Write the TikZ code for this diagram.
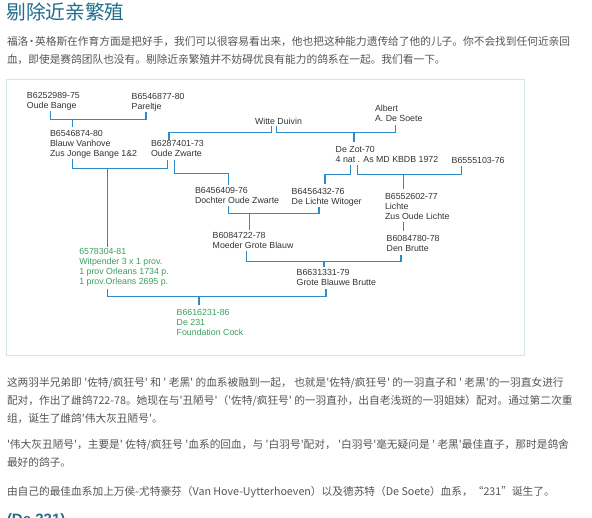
\documentclass[tikz,border=0pt]{standalone}
\usepackage{fontspec}
\newfontfamily\cjkfont{Noto Sans CJK SC}
\newfontfamily\diagfont{Liberation Sans}
\usetikzlibrary{calc}
\definecolor{titlec}{HTML}{1F6E8C}
\definecolor{bodyc}{HTML}{555555}
\definecolor{linec}{HTML}{2E8BCB}
\definecolor{greenc}{HTML}{3A9E5C}
\definecolor{diagc}{HTML}{333333}
\definecolor{framec}{HTML}{D3E6EA}
\begin{document}
\begin{tikzpicture}[x=1pt,y=-1pt,
 every node/.style={inner sep=0pt, outer sep=0pt},
 ped/.style={anchor=north west, align=left, text=diagc, font=\diagfont\fontsize{8.8}{10}\selectfont, execute at begin node=\strut, execute at end node=\strut},
 pedg/.style={ped, text=greenc},
 conn/.style={draw=linec, line width=1.4pt},
 body/.style={anchor=base west, text=bodyc, font=\cjkfont\fontsize{10.7}{14}\selectfont},
]
\useasboundingbox (0,0) rectangle (592,518);
\clip (0,0) rectangle (592,518);
\fill[white] (0,0) rectangle (592,518);

% page text
\node[anchor=base west, text=titlec, font=\cjkfont\fontsize{19.7}{24}\selectfont] (title) at (6.5,19.5) {剔除近亲繁殖};
\node[body] (p1a) at (7,45.7) {福洛{\kern-2pt}·{\kern-2pt}英格斯在作育方面是把好手，我们可以很容易看出来，他也把这种能力遗传给了他的儿子。你不会找到任何近亲回};
\node[body] (p1b) at (7,63.3) {血，即使是赛鸽团队也没有。剔除近亲繁殖并不妨碍优良有能力的鸽系在一起。我们看一下。};

\node[body] (p2a) at (7,387) {这两羽半兄弟即 '佐特/疯狂号' 和 ' 老黑' 的血系被融到一起， 也就是'佐特/疯狂号' 的一羽直子和 ' 老黑'的一羽直女进行};
\node[body] (p2b) at (7,405) {配对，作出了雌鸽722-78。她现在与'丑陋号'（'佐特/疯狂号' 的一羽直孙，出自老浅斑的一羽姐妹）配对。通过第二次重};
\node[body] (p2c) at (7,423) {组，诞生了雌鸽'伟大灰丑陋号'。};
\node[body] (p3a) at (7,449) {'伟大灰丑陋号'，主要是' 佐特/疯狂号 '血系的回血，与 '白羽号'配对， '白羽号'毫无疑问是 ' 老黑'最佳直子，那时是鸽舍};
\node[body] (p3b) at (7,466.6) {最好的鸽子。};
\node[body] (p4) at (7,496) {由自己的最佳血系加上万侯-尤特豪芬（Van Hove-Uytterhoeven）以及德苏特（De Soete）血系，“231”诞生了。};
\node[anchor=base west, text=titlec, font=\diagfont\bfseries\fontsize{15}{18}\selectfont] (h2) at (7,525) {(De 231)};

% diagram frame
\draw[framec, line width=1pt] (6.5,79.5) rectangle (524.5,356);

% pedigree nodes
\node[ped] (n1) at (27,92.2) {B6252989-75\\Oude Bange};
\node[ped] (n2) at (131.7,92.9) {B6546877-80\\Pareltje};
\node[ped] (n3) at (50,130.2) {B6546874-80\\Blauw Vanhove\\Zus Jonge Bange 1\&2};
\node[ped] (n4) at (255,117.2) {Witte Duivin};
\node[ped] (n5) at (375,105.5) {Albert\\A. De Soete};
\node[ped] (n6) at (151,140.5) {B6287401-73\\Oude Zwarte};
\node[ped] (n7) at (335.7,146.2) {De Zot-70\\4 nat . As MD KBDB 1972};
\node[ped] (n8) at (451.7,156.2) {B6555103-76};
\node[ped] (n9) at (195,186.9) {B6456409-76\\Dochter Oude Zwarte};
\node[ped] (n10) at (291.7,187.9) {B6456432-76\\De Lichte Witoger};
\node[ped] (n11) at (385,192.9) {B6552602-77\\Lichte\\Zus Oude Lichte};
\node[ped] (n12) at (212.7,232.2) {B6084722-78\\Moeder Grote Blauw};
\node[ped] (n13) at (386.7,235.5) {B6084780-78\\Den Brutte};
\node[ped] (n14) at (296.7,269.5) {B6631331-79\\Grote Blauwe Brutte};
\node[pedg] (n15) at (79.3,247.9) {6578304-81\\Witpender 3 x 1 prov.\\1 prov Orleans 1734 p.\\1 prov.Orleans 2695 p.};
\node[pedg] (n16) at (176.7,309.5) {B6616231-86\\De 231\\Foundation Cock};

% connectors
\coordinate (j1) at (72.7,119.3);
\draw[conn] ($(n1.south west)+(23.7,0)$) |- (j1) -| ($(n2.south west)+(14.3,0)$);
\draw[conn, shorten >=3.5pt] (j1) -- (n3.north -| j1);

\coordinate (j2) at (169,132.3);
\draw[conn, shorten >=0.5pt] ($(n4.south west)+(16.7,-1.5)$) |- (j2) -- (n6.north -| j2);

\coordinate (j3) at (354,132.3);
\draw[conn] ($(n4.south west)+(21.7,-1.5)$) |- (j3) -| ($(n5.south west)+(20.7,0)$);
\draw[conn, shorten >=4pt] (j3) -- (n7.north -| j3);

\coordinate (j4) at (107.7,168.3);
\draw[conn] ($(n3.south west)+(22.7,0)$) |- (j4) -| ($(n6.south west)+(16.7,0)$);
\draw[conn, shorten >=1pt] (j4) -- (n15.north -| j4);

\coordinate (j5) at (228.3,173.3);
\draw[conn, shorten >=2pt] ($(n6.south west)+(23.3,0)$) |- (j5) -- (n9.north -| j5);

\coordinate (j6) at (325,174.7);
\draw[conn, shorten >=4pt] ($(n7.south west)+(15,0)$) |- (j6) -- (n10.north -| j6);

\coordinate (j7) at (403.3,174.7);
\draw[conn] ($(n7.south west)+(21.6,0)$) |- (j7) -| ($(n8.south west)+(10,0)$);
\draw[conn, shorten >=4pt] (j7) -- (n11.north -| j7);
\draw[conn, shorten >=4pt] (n11.south -| j7) -- (n13.north -| j7);

\coordinate (j8) at (249.3,213.3);
\draw[conn] ($(n9.south west)+(33.3,0)$) |- (j8) -| ($(n10.south west)+(27.3,0)$);
\draw[conn, shorten >=2pt] (j8) -- (n12.north -| j8);

\coordinate (j9) at (324,261.7);
\draw[conn] ($(n12.south west)+(34,0)$) |- (j9) -| ($(n13.south west)+(14.3,0)$);
\draw[conn, shorten >=2pt] (j9) -- (n14.north -| j9);

\coordinate (j10) at (199,296.7);
\draw[conn] ($(n15.south west)+(28.4,2)$) |- (j10) -| ($(n14.south west)+(29.3,0)$);
\draw[conn, shorten >=4pt] (j10) -- (n16.north -| j10);
\end{tikzpicture}
\end{document}
